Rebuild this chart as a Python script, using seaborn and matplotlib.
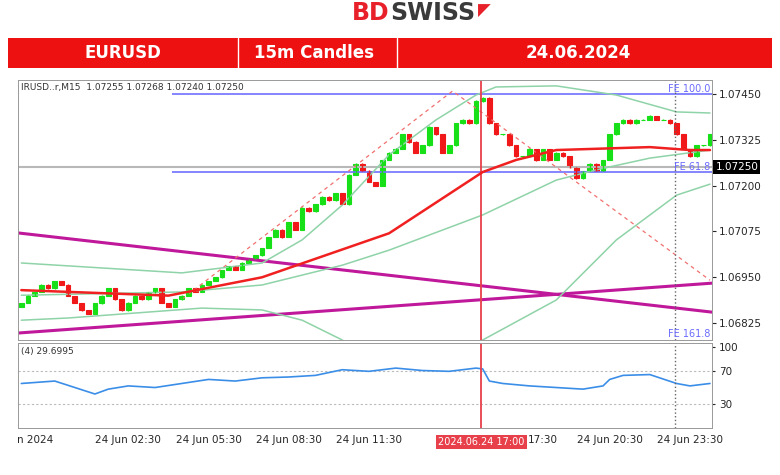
import numpy as np
import pandas as pd
import matplotlib
matplotlib.use("Agg")
import matplotlib.pyplot as plt
import seaborn as sns

sns.set_style("white")
plt.rcParams["font.family"] = ["DejaVu Sans"]

# candle closes (15m)
closes = [1.0688, 1.0690, 1.0691, 1.0693, 1.0692, 1.0694, 1.0693,
          1.0690, 1.0688, 1.0686, 1.0685, 1.0688, 1.0690,
          1.0692, 1.0689, 1.0686, 1.0688, 1.0690, 1.0689, 1.0691, 1.0692, 1.0688, 1.0687,
          1.0689, 1.0690, 1.0692, 1.0691, 1.0693, 1.0694, 1.0695, 1.0697, 1.0698, 1.0697,
          1.0699, 1.0700, 1.0701, 1.0703,
          1.0706, 1.0708, 1.0706, 1.0710, 1.0708, 1.0714, 1.0713, 1.0715, 1.0717,
          1.0716, 1.0718, 1.0715, 1.0723, 1.0726, 1.0724, 1.0721, 1.0720, 1.0727, 1.0729,
          1.0730, 1.0734, 1.0732, 1.0729, 1.0731, 1.0736, 1.0734, 1.0729, 1.0731, 1.0737,
          1.0738, 1.0737, 1.0743, 1.0744,
          1.0737, 1.0734, 1.0734, 1.0731, 1.0728, 1.0728, 1.0730, 1.0727, 1.0730, 1.0727,
          1.0729, 1.0728, 1.0725, 1.0722, 1.0724,
          1.0726, 1.0724, 1.0727, 1.0734, 1.0737,
          1.0738, 1.0737, 1.0738, 1.0738, 1.0739, 1.0738, 1.0738, 1.0737, 1.0734, 1.0730,
          1.0728, 1.0731, 1.0731, 1.0734]
first_open = 1.0687
# wick lengths in pips (up, down)
wick_up = [1, 2, 1, 1, 2, 1, 1, 1, 0, 1, 1, 1, 1, 2, 1, 1, 2, 1, 1, 1, 1, 2, 1,
           1, 1, 2, 1, 1, 1, 1, 1, 2, 1, 1, 1, 2, 1, 1, 2, 1, 2, 1, 1, 2, 1, 1,
           2, 1, 1, 2, 1, 1, 2, 1, 1, 2, 2, 1, 1, 2, 1, 2, 1, 1, 2, 2, 1, 2, 3, 2,
           1, 1, 2, 1, 1, 1, 2, 1, 1, 1, 1, 1, 1, 1, 1, 1, 1, 1, 1, 2,
           1, 2, 1, 1, 2, 1, 1, 1, 1, 1, 1, 1, 1, 1]
wick_dn = [1, 1, 1, 1, 1, 1, 1, 1, 1, 1, 1, 1, 2, 1, 1, 1, 1, 1, 1, 1, 4, 1, 2,
           2, 1, 1, 1, 1, 1, 1, 1, 1, 1, 1, 1, 1, 1, 1, 1, 2, 1, 2, 1, 1, 1, 3,
           1, 1, 1, 2, 1, 1, 1, 1, 2, 1, 1, 1, 3, 1, 1, 1, 1, 1, 1, 1, 1, 1, 1, 1,
           1, 2, 1, 1, 1, 1, 1, 3, 1, 1, 1, 1, 1, 2, 2, 1, 1, 1, 1, 1,
           1, 1, 1, 1, 1, 1, 1, 1, 1, 1, 2, 1, 1, 1]

# moving average and bands (index, price knots)
ma_x = [0, 22, 36, 55, 69, 74, 80, 94, 100, 103]
ma_y = [1.06915, 1.06900, 1.06950, 1.07070, 1.07237, 1.07270, 1.07297, 1.07305, 1.07297, 1.07297]
bb_up_x = [0, 24, 36, 42, 48, 55, 62, 68, 71, 80, 89, 98, 103]
bb_up_y = [1.06989, 1.06962, 1.06989, 1.07052, 1.07147, 1.07284, 1.07379, 1.07447, 1.07469,
           1.07472, 1.07447, 1.07401, 1.07398]
bb_mid_x = [0, 24, 36, 48, 55, 69, 80, 86, 94, 103]
bb_mid_y = [1.06901, 1.06910, 1.06929, 1.06983, 1.07024, 1.07120, 1.07215, 1.07243, 1.07275, 1.07297]
bb_lo_x = [0, 7, 27, 36, 42, 48, 57, 69, 80, 89, 98, 103]
bb_lo_y = [1.06833, 1.06839, 1.06866, 1.06861, 1.06833, 1.06779, 1.06670, 1.06779, 1.06888,
           1.07052, 1.07174, 1.07204]
trend_down = [1.07071, 1.06855]
trend_up = [1.06798, 1.06934]
fib_x = [24, 64.5, 103]
fib_y = [1.0689, 1.07458, 1.06942]

rsi_x = [0, 5, 8, 11, 13, 16, 20, 24, 28, 32, 36, 40, 44, 48, 52, 56, 60, 64, 68, 69,
         70, 72, 76, 80, 84, 87, 88, 90, 94, 98, 100, 103]
rsi_y = [55, 58, 50, 42, 48, 52, 50, 55, 60, 58, 62, 63, 65, 72, 70, 74, 71, 70, 74, 73,
         58, 55, 52, 50, 48, 52, 60, 65, 66, 55, 52, 55]

price_ticks = [1.06825, 1.06950, 1.07075, 1.07200, 1.07325, 1.07450]
time_ticks = [2, 16, 28, 40, 52, 78, 88, 100]
time_labels = ["n 2024", "24 Jun 02:30", "24 Jun 05:30", "24 Jun 08:30", "24 Jun 11:30",
               "17:30", "24 Jun 20:30", "24 Jun 23:30"]

n = len(closes)
idx = np.arange(n)
opens = [first_open] + closes[:-1]
df = pd.DataFrame({"i": idx, "o": opens, "c": closes})
df["hi"] = df[["o", "c"]].max(axis=1) + np.array(wick_up) * 1e-5
df["lo"] = df[["o", "c"]].min(axis=1) - np.array(wick_dn) * 1e-5
col = np.where(df["c"] >= df["o"], "#18e018", "#f01818")

fig = plt.figure(figsize=(7.8, 4.75), dpi=100)
W, H = 780, 475

def rect(x0, y0, x1, y1):
    return [x0 / W, 1 - y1 / H, (x1 - x0) / W, (y1 - y0) / H]

# logo + header
fig.text(0.5, 1 - 13 / H, "BD", color="#e8202a", fontsize=17, fontweight="bold", ha="right", va="center")
fig.text(0.5, 1 - 13 / H, "SWISS", color="#3a3a3a", fontsize=17, fontweight="bold", ha="left", va="center")
fig.text(0.5 + 88 / W, 1 - 11 / H, "◤", color="#e8202a", fontsize=12, ha="left", va="center")
hdr = fig.add_axes(rect(8, 38, 772, 68))
hdr.set_xlim(0, 780); hdr.set_ylim(0, 1); hdr.axis("off")
hdr.axvspan(0, 780, color="#ee1111")
for xd in [235, 397]:
    hdr.axvline(xd, color="white", lw=1)
hdr.text(117, 0.5, "EURUSD", color="white", fontsize=12, fontweight="bold", ha="center", va="center")
hdr.text(312, 0.5, "15m Candles", color="white", fontsize=12, fontweight="bold", ha="center", va="center")
hdr.text(582, 0.5, "24.06.2024", color="white", fontsize=12, fontweight="bold", ha="center", va="center")

ax = fig.add_axes(rect(18, 80, 712, 340))
ax.set_xlim(-0.5, 103.3)
ax.set_ylim(1.06779, 1.07488)

# chart decorations
ax.axhline(1.07250, color="#b8b8b8", lw=1.5)
ax.hlines(1.07237, 22.5, 103.3, color="#7070ff", lw=1.2)
ax.hlines(1.07450, 22.5, 103.3, color="#7070ff", lw=1.2)
ax.plot([-0.5, 103.3], trend_down, color="#c0189a", lw=2.2)
ax.plot([-0.5, 103.3], trend_up, color="#c0189a", lw=2.2)
ax.plot(fib_x, fib_y, color="#f07070", lw=0.9, ls=(0, (3, 3)))
for bx, by in [(bb_up_x, bb_up_y), (bb_mid_x, bb_mid_y), (bb_lo_x, bb_lo_y)]:
    sns.lineplot(x=bx, y=by, ax=ax, color="#8fd3a8", lw=1.1)
ax.axvline(68.8, color="#e8404a", lw=1.3)
ax.axvline(97.8, color="#666666", lw=1, ls=":")

ax.vlines(df["i"], df["lo"], df["hi"], color=col, lw=1)
ax.bar(df["i"], df["c"] - df["o"], bottom=df["o"], width=0.7, color=col, edgecolor=col, lw=0.8)
sns.lineplot(x=ma_x, y=ma_y, ax=ax, color="#f02020", lw=1.8)

ax.text(103, 1.07450, "FE 100.0", color="#6b6bff", fontsize=7, ha="right", va="bottom")
ax.text(103, 1.07237, "FE 61.8", color="#6b6bff", fontsize=7, ha="right", va="bottom")
ax.text(103, 1.06782, "FE 161.8", color="#6b6bff", fontsize=7, ha="right", va="bottom")
ax.text(0, 1.07468, "IRUSD..r,M15  1.07255 1.07268 1.07240 1.07250", fontsize=6.5, color="#333333", va="center")

ax.yaxis.tick_right()
ax.set_yticks(price_ticks)
ax.set_yticklabels([f"{t:.5f}" for t in price_ticks], fontsize=7.5)
ax.tick_params(axis="y", length=3, pad=2)
ax.set_xticks([])
ax.text(1.005, (1.07250 - 1.06779) / (1.07488 - 1.06779), "1.07250", transform=ax.transAxes,
        fontsize=7.5, color="white", va="center", ha="left",
        bbox=dict(facecolor="black", edgecolor="none", pad=1.5))
for s in ax.spines.values():
    s.set_color("#999999"); s.set_linewidth(0.7)

rx = fig.add_axes(rect(18, 343, 712, 428))
rx.set_xlim(-0.5, 103.3)
rx.set_ylim(0, 105)
rx.axhline(70, color="#bbbbbb", lw=0.8, ls=(0, (2, 2)))
rx.axhline(30, color="#bbbbbb", lw=0.8, ls=(0, (2, 2)))
sns.lineplot(x=rsi_x, y=rsi_y, ax=rx, color="#3b8ee8", lw=1.2)
rx.axvline(68.8, color="#e8404a", lw=1.3)
rx.axvline(97.8, color="#666666", lw=1, ls=":")
rx.text(0, 100, "(4) 29.6995", fontsize=6.5, color="#333333", va="top")
rx.yaxis.tick_right()
rx.set_yticks([30, 70, 100])
rx.set_yticklabels(["30", "70", "100"], fontsize=7.5)
rx.set_xticks(time_ticks)
rx.set_xticklabels(time_labels, fontsize=7.5)
rx.tick_params(length=2, pad=3)
rx.text(68.8, -0.16, "2024.06.24 17:00", transform=rx.get_xaxis_transform(), fontsize=7,
        color="white", ha="center", va="center",
        bbox=dict(facecolor="#e8404a", edgecolor="none", pad=1.5))
for s in rx.spines.values():
    s.set_color("#999999"); s.set_linewidth(0.7)

fig.savefig("out.png", dpi=100)
